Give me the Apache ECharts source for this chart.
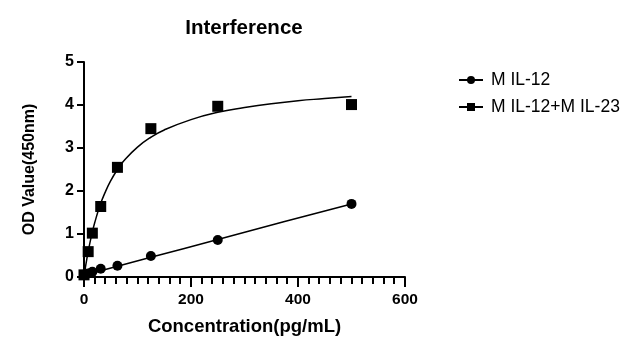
<!DOCTYPE html>
<html><head><meta charset="utf-8">
<script src="https://cdn.jsdelivr.net/npm/echarts@6/dist/echarts.min.js"></script>
<style>html,body{margin:0;padding:0;background:#fff}#c{width:637px;height:350px}</style>
</head><body><div id="c"></div>
<script>
// Measured points
const concentrations = [0, 7.8, 15.6, 31.25, 62.5, 125, 250, 500];
const il12 = [0.05, 0.08, 0.12, 0.19, 0.26, 0.49, 0.86, 1.70];
const il12il23 = [0.05, 0.59, 1.02, 1.64, 2.55, 3.45, 3.97, 4.01];
// Fitted curves
const fitX12 = [0, 125, 250, 375, 500];
const fitY12 = [0.04, 0.46, 0.87, 1.29, 1.70];
const fitX23 = [0, 2, 5, 10, 15, 20, 30, 40, 50, 62.5, 75, 100, 125, 150, 200, 250, 300, 350, 400, 450, 500];
const fitY23 = [0, 0.17, 0.40, 0.73, 1.01, 1.26, 1.67, 1.98, 2.24, 2.50, 2.71, 3.02, 3.25, 3.42, 3.66, 3.83, 3.94, 4.03, 4.10, 4.15, 4.20];
const seriesNames = ['M IL-12', 'M IL-12+M IL-23'];
const xTicks = [0, 200, 400, 600];
const xMinorTicks = [20, 40, 60, 80, 100, 120, 140, 160, 180, 220, 240, 260, 280, 300, 320, 340, 360, 380,
  420, 440, 460, 480, 500, 520, 540, 560, 580];
const yTicks = [0, 1, 2, 3, 4, 5];

const zip = (a, b) => a.map((v, i) => [v, b[i]]);
const font = 'Liberation Sans, Arial, sans-serif';
const chart = echarts.init(document.getElementById('c'), null, {renderer: 'canvas'});
chart.setOption({
  animation: false,
  backgroundColor: '#fff',
  title: {text: 'Interference', left: 239, top: 13, textAlign: 'center',
    textStyle: {fontFamily: font, fontWeight: 'bold', fontSize: 20.5, color: '#000'}},
  legend: {
    left: 453, top: 66, orient: 'vertical', itemGap: 9, itemWidth: 24, itemHeight: 10,
    data: seriesNames,
    textStyle: {fontFamily: font, fontSize: 17.5, color: '#000', padding: [0, 0, 0, 3]}
  },
  grid: {left: 84, right: 232, top: 62, bottom: 73},
  xAxis: {
    type: 'value', min: 0, max: 600, interval: 200,
    name: 'Concentration(pg/mL)', nameLocation: 'middle', nameGap: 40,
    nameTextStyle: {fontFamily: font, fontWeight: 'bold', fontSize: 18.5, color: '#000'},
    axisLine: {show: true, onZero: false, lineStyle: {color: '#000', width: 2}},
    axisTick: {show: true, length: 10, lineStyle: {color: '#000', width: 2}},
    axisLabel: {fontFamily: font, fontWeight: 'bold', fontSize: 15.5, color: '#000', margin: 15,
      formatter: v => xTicks.includes(v) ? String(v) : ''},
    splitLine: {show: false}
  },
  yAxis: {
    type: 'value', min: 0, max: 5, interval: 1,
    name: 'OD Value(450nm)', nameLocation: 'middle', nameGap: 46, nameRotate: 90,
    nameTextStyle: {fontFamily: font, fontWeight: 'bold', fontSize: 16, color: '#000'},
    axisLine: {show: true, lineStyle: {color: '#000', width: 2}},
    axisTick: {show: true, length: 7, lineStyle: {color: '#000', width: 2}},
    axisLabel: {fontFamily: font, fontWeight: 'bold', fontSize: 16, color: '#000', margin: 10,
      formatter: v => yTicks.includes(v) ? String(v) : ''},
    splitLine: {show: false}
  },
  series: [
    {name: seriesNames[0], type: 'line', data: zip(fitX12, fitY12), smooth: true, showSymbol: false,
      symbol: 'circle', symbolSize: 9, itemStyle: {color: '#000'}, lineStyle: {color: '#000', width: 1.5}, z: 2},
    {name: seriesNames[1], type: 'line', data: zip(fitX23, fitY23), smooth: true, showSymbol: false,
      symbol: 'rect', symbolSize: 9, itemStyle: {color: '#000'}, lineStyle: {color: '#000', width: 1.5}, z: 2},
    {name: seriesNames[0], type: 'scatter', data: zip(concentrations, il12), symbol: 'circle', symbolSize: 10,
      itemStyle: {color: '#000', opacity: 1}, z: 3},
    {name: seriesNames[1], type: 'scatter', data: zip(concentrations, il12il23), symbol: 'rect', symbolSize: 11,
      itemStyle: {color: '#000', opacity: 1}, z: 3},
    {type: 'custom', silent: true, clip: false, z: 1,
      data: xMinorTicks.map(v => [v, 0]),
      renderItem: (params, api) => {
        const p = api.coord([api.value(0), api.value(1)]);
        return {type: 'line', shape: {x1: Math.round(p[0]), y1: p[1], x2: Math.round(p[0]), y2: p[1] + 7},
          style: {stroke: '#000', lineWidth: 2}};
      }}
  ]
});
</script></body></html>
